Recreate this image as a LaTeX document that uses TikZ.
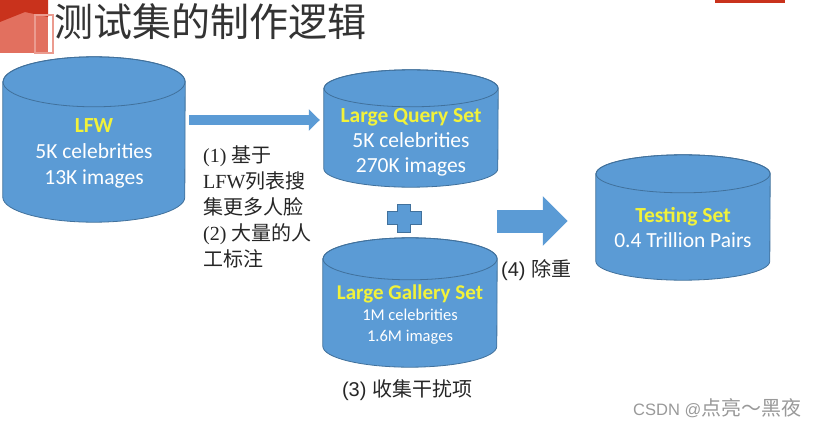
\documentclass[tikz,border=0pt]{standalone}
\usepackage{fontspec}
\setmainfont{Carlito}
\newfontfamily\cjk{Noto Sans CJK SC}
\newfontfamily\tms{Liberation Serif}
\newfontfamily\ars{Liberation Sans}
\definecolor{dbblue}{HTML}{5B9BD5}
\definecolor{dbedge}{HTML}{41719C}
\definecolor{dbyellow}{HTML}{F2F23A}
\definecolor{slidered}{HTML}{C9321C}
\definecolor{slidepink}{HTML}{E2705F}
\usetikzlibrary{arrows.meta}

% name, cx, cy, width, height, ellipse radius
\newcommand{\dbcyl}[6]{%
  \node[inner sep=0,minimum width=#4pt,minimum height=#5pt] (#1) at (#2,#3) {};
  \path[cylfill] ([yshift=-#6pt]#1.north west) -- ([yshift=#6pt]#1.south west)
    arc[start angle=180,end angle=360,x radius=#4pt/2,y radius=#6pt]
    -- ([yshift=-#6pt]#1.north east)
    arc[start angle=0,end angle=180,x radius=#4pt/2,y radius=#6pt] -- cycle;
  \draw[cylline] ([yshift=-#6pt]#1.north) ellipse[x radius=#4pt/2,y radius=#6pt];
}

\begin{document}
\begin{tikzpicture}[x=1pt,y=1pt,
  cylfill/.style={fill=dbblue,draw=dbedge,line width=0.8pt},
  cylline/.style={draw=dbedge,line width=0.8pt},
  lbl/.style={text=white,align=center,inner sep=0,font=\fontsize{21.5}{26}\selectfont},
  note/.style={align=left,inner sep=0,font=\fontsize{20}{26}\selectfont,text=black!85},
  thinarr/.style={dbblue,line width=10pt,-{Triangle[width=21pt,length=11pt]}},
  blockarr/.style={dbblue,line width=23pt,-{Triangle[width=48pt,length=25pt]}}]
  \useasboundingbox (0,0) rectangle (820,-428);
  \fill[white] (0,0) rectangle (820,-428);
  % slide decoration
  \fill[slidepink] (0,0) rectangle (48,-53);
  \fill[slidered] (0,0) -- (48,0) -- (48,-17) -- (25,-12) -- (0,-22) -- cycle;
  \draw[slidepink!70,line width=1.2pt] (35,-15) rectangle (53,-53);
  \fill[slidered] (715,0) rectangle (785,-3);
  \node[anchor=west,inner sep=0,font=\cjk\fontsize{39}{40}\selectfont,text=black!80] (title) at (54,-22) {测试集的制作逻辑};
  % cylinders
  \dbcyl{lfw}{94}{-139.5}{182}{165}{25}
  \dbcyl{query}{411}{-128.5}{174}{117}{18.5}
  \dbcyl{gallery}{410}{-302.5}{174}{129}{21}
  \dbcyl{testing}{683}{-217.5}{174}{125}{19}
  \node[lbl] (lfwlbl) at (94,-153.5) {{\color{dbyellow}\bfseries LFW}\\5K celebrities\\13K images};
  \node[lbl,font=\fontsize{21.5}{25}\selectfont] (querylbl) at (411,-142) {{\color{dbyellow}\bfseries Large Query Set}\\5K celebrities\\270K images};
  \node[lbl,font=\fontsize{16.5}{21}\selectfont] (gallerylbl) at (410,-315) {{\color{dbyellow}\bfseries\fontsize{21}{21}\selectfont Large Gallery Set}\\1M celebrities\\1.6M images};
  \node[lbl,font=\fontsize{21.5}{25}\selectfont] (testinglbl) at (683,-227.5) {{\color{dbyellow}\bfseries Testing Set}\\0.4 Trillion Pairs};
  % plus sign
  \path[cylfill] (404,-218) ++(-17,6.5) -- ++(10.5,0) -- ++(0,7.5) -- ++(13,0) -- ++(0,-7.5)
    -- ++(10.5,0) -- ++(0,-13) -- ++(-10.5,0) -- ++(0,-7.5) -- ++(-13,0) -- ++(0,7.5) -- ++(-10.5,0) -- cycle;
  % arrows
  \coordinate (a1) at (0,-120);
  \coordinate (a2) at (0,-221);
  \draw[thinarr,shorten <=4pt,shorten >=4pt] (lfw.east |- a1) -- (query.west |- a1);
  \draw[blockarr,shorten <=-1pt,shorten >=28pt] (query.east |- a2) -- (testing.west |- a2);
  % notes
  \node[note,anchor=west] (steps) at (203,-207) {\tms (1) \cjk 基于\\\tms LFW\cjk 列表搜\\\cjk 集更多人脸\\\tms (2) \cjk 大量的人\\\cjk 工标注};
  \node[note,anchor=west] (dedup) at (501,-270) {\ars (4) \cjk 除重};
  \node[note] (noise) at (407,-390) {\ars (3) \cjk 收集干扰项};
  \node[anchor=west,inner sep=0,text=black!40] (mark) at (633,-408) {\ars\fontsize{16.5}{18}\selectfont CSDN @\cjk\fontsize{20}{20}\selectfont 点亮～黑夜};
\end{tikzpicture}
\end{document}
